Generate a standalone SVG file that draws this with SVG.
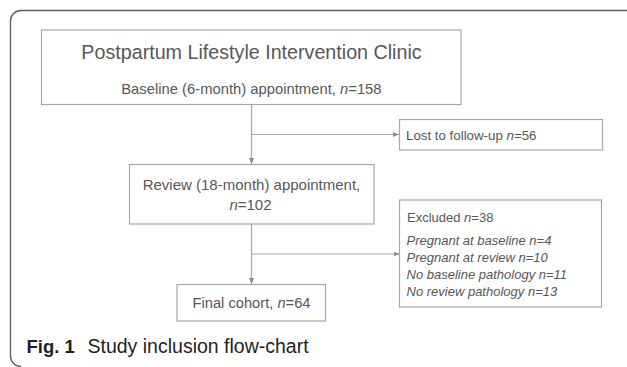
<svg xmlns="http://www.w3.org/2000/svg" width="627" height="367" viewBox="0 0 627 367">
<defs>
<style>
.box{fill:#ffffff;stroke:#a6a6a6;stroke-width:1.2}
.t{font-family:"Liberation Sans","Open Sans",sans-serif;fill:#575757}
.i{font-style:italic}
.c{stroke:#a6a6a6;stroke-width:1.2;fill:none}
.cap{font-family:"Liberation Sans","Open Sans",sans-serif;fill:#231f20}
</style>
<marker id="arr" markerUnits="userSpaceOnUse" markerWidth="6" markerHeight="6" refX="6" refY="3" orient="auto">
<path d="M0,0.5 L6,3 L0,5.5 z" fill="#8c8c8c"/>
</marker>
</defs>
<rect width="627" height="367" fill="#ffffff"/>
<path d="M627,10.5 H21 A10.5,10.5 0 0 0 10.5,21 V356 A10.5,10.5 0 0 0 21,366.5" fill="none" stroke="#5f5f5f" stroke-width="1.4"/>

<g id="connectors">
<path class="c" d="M251.5,104.5 V164" marker-end="url(#arr)"/>
<path class="c" d="M251.5,134.5 H399" marker-end="url(#arr)"/>
<path class="c" d="M251.5,224 V284" marker-end="url(#arr)"/>
<path class="c" d="M251.5,254 H399.5" marker-end="url(#arr)"/>
</g>

<g id="clinic">
<rect class="box" x="41.5" y="30" width="419.5" height="74.5"/>
<text class="t" x="251.5" y="58.5" font-size="19.7" text-anchor="middle">Postpartum Lifestyle Intervention Clinic</text>
<text class="t" x="251.4" y="93.5" font-size="14.8" text-anchor="middle">Baseline (6-month) appointment, <tspan class="i">n</tspan>=158</text>
</g>

<g id="lost">
<rect class="box" x="399.5" y="119.5" width="203" height="30.5"/>
<text class="t" x="406" y="139.5" font-size="13.3">Lost to follow-up <tspan class="i">n</tspan>=56</text>
</g>

<g id="review">
<rect class="box" x="129.5" y="164.5" width="244.5" height="59.5"/>
<text class="t" x="251.5" y="190" font-size="15" text-anchor="middle">Review (18-month) appointment,</text>
<text class="t" x="250.5" y="210" font-size="15" text-anchor="middle"><tspan class="i">n</tspan>=102</text>
</g>

<g id="excluded">
<rect class="box" x="399.5" y="200" width="202" height="107"/>
<text class="t" x="407" y="222" font-size="13">Excluded <tspan class="i">n</tspan>=38</text>
<text class="t i" x="406.5" y="244.5" font-size="13">Pregnant at baseline n=4</text>
<text class="t i" x="406.5" y="261.5" font-size="13">Pregnant at review n=10</text>
<text class="t i" x="406.5" y="278.5" font-size="13">No baseline pathology n=11</text>
<text class="t i" x="406.5" y="295.5" font-size="13">No review pathology n=13</text>
</g>

<g id="final">
<rect class="box" x="177" y="284.5" width="148.5" height="36.5"/>
<text class="t" x="251.5" y="307.5" font-size="14.7" text-anchor="middle">Final cohort, <tspan class="i">n</tspan>=64</text>
</g>

<g id="caption">
<text class="cap" x="26.5" y="353" font-size="18.5" font-weight="bold">Fig. 1</text>
<text class="cap" x="87.5" y="353" font-size="19.5">Study inclusion flow-chart</text>
</g>
</svg>
